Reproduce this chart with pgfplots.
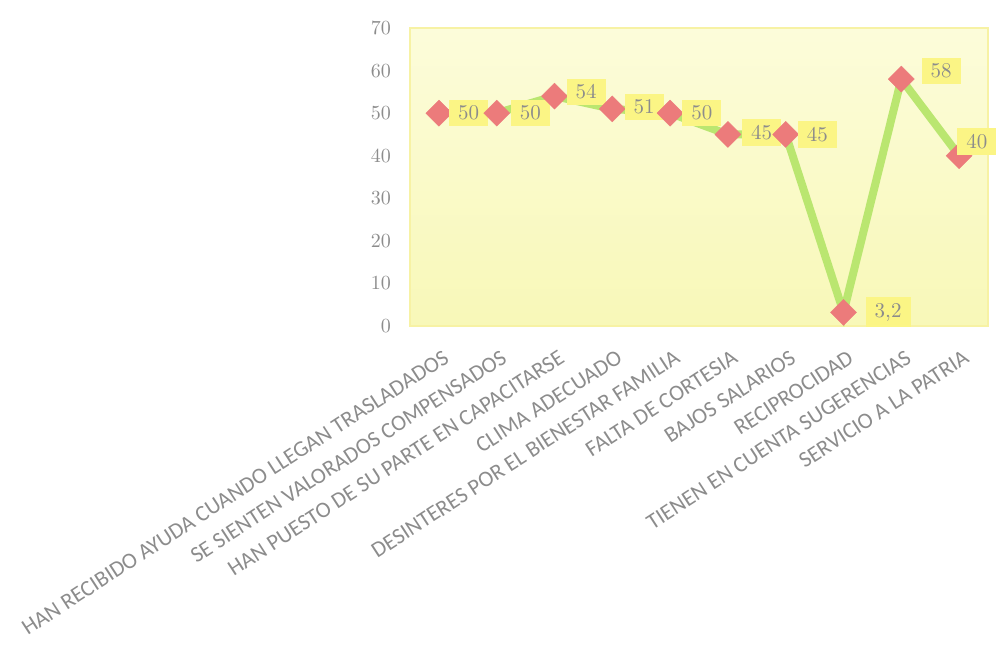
\documentclass[border=0pt]{standalone}
\usepackage{fontspec}
\usepackage{pgfplots}
\pgfplotsset{compat=1.18}
\newfontfamily\catfont{Carlito}

\definecolor{linegreen}{HTML}{BAE670}
\definecolor{markred}{HTML}{EC7B7B}
\definecolor{labelyellow}{HTML}{FBF585}
\definecolor{textgray}{HTML}{8C8C8C}
\definecolor{areatop}{HTML}{FCFCDA}
\definecolor{areabottom}{HTML}{F8F8B8}
\definecolor{areaframe}{HTML}{F7F2A4}

% value, label text, label offsets (pt)
\pgfplotstableread{
x y   lab dx dy
0 50  50  5  0
1 50  50  7  0
2 54  54  6  2
3 51  51  6  1
4 50  50  6  0
5 45  45  7  1
6 45  45  6  0
7 3.2 3,2 11 0
8 58  58  10 4
9 40  40  -1 7
}\datatable

\begin{document}
\begin{tikzpicture}
\useasboundingbox (0,0) rectangle (502pt,328pt);
\begin{axis}[
  at={(205pt,165pt)}, anchor=south west,
  width=289pt, height=149pt, scale only axis,
  xmin=-0.5, xmax=9.5, ymin=0, ymax=70,
  ytick={0,10,...,70},
  xtick={0,...,9},
  xticklabels={HAN RECIBIDO AYUDA CUANDO LLEGAN TRASLADADOS,
    SE SIENTEN VALORADOS COMPENSADOS,
    HAN PUESTO DE SU PARTE EN CAPACITARSE,
    CLIMA ADECUADO,
    DESINTERES POR EL BIENESTAR FAMILIA,
    FALTA DE CORTESIA,
    BAJOS SALARIOS,
    RECIPROCIDAD,
    TIENEN EN CUENTA SUGERENCIAS,
    SERVICIO A LA PATRIA},
  major tick length=0pt,
  axis line style={draw=areaframe, line width=1.2pt},
  axis background/.style={top color=areatop, bottom color=areabottom},
  xticklabel style={font=\catfont\fontsize{11.2}{13}\selectfont, text=textgray,
    xshift=2pt, yshift=-10pt, rotate=33, anchor=north east, inner sep=1pt},
  /pgf/number format/assume math mode=true,
  yticklabel style={font=\fontsize{10}{12}\selectfont,
    text=textgray, xshift=-6pt},
  clip=false,
]
\addplot[linegreen, line width=4pt,
  mark=square*, mark size=4.6pt,
  mark options={rotate=45, draw=markred, fill=markred, line width=0.2pt},
  point meta=explicit symbolic,
  visualization depends on={\thisrow{dx} \as \dx},
  visualization depends on={\thisrow{dy} \as \dy},
  nodes near coords,
  nodes near coords style={anchor=west, xshift=\dx pt, yshift=\dy pt,
    fill=labelyellow, text=textgray, inner xsep=4.5pt, inner ysep=3pt,
    font=\fontsize{10.5}{12}\selectfont},
] table[x=x, y=y, meta=lab] {\datatable};
\end{axis}
\end{tikzpicture}
\end{document}
